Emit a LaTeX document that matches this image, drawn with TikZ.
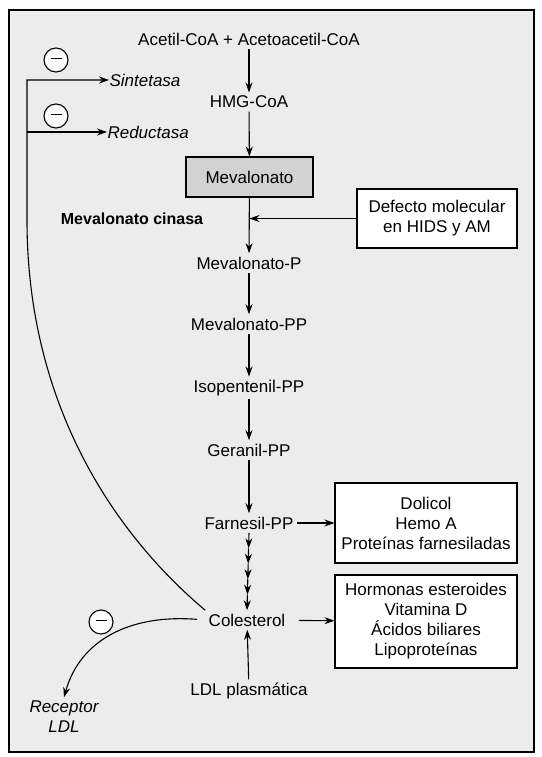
\documentclass[tikz,border=0pt]{standalone}
\usepackage{fontspec}
\setmainfont{Liberation Sans}
\usetikzlibrary{arrows.meta,calc}
\begin{document}
\begin{tikzpicture}[x=1pt,y=-1pt,line width=1.1pt,>={Stealth[length=10pt,width=7pt]},
  every node/.style={font=\fontsize{17}{20}\selectfont},
  metab/.style={inner sep=3pt},
  outbox/.style={draw,fill=white,align=center,inner sep=0pt},
  minus/.style={circle,draw,fill=white,minimum size=24pt,inner sep=0pt}]
\useasboundingbox (0,0) rectangle (541,757);
% frame
\draw[fill=gray!15,line width=1.5pt] (9,10) rectangle (534,752);
% main pathway
\node[metab] (acet) at (249,39) {Acetil-CoA + Acetoacetil-CoA};
\node[metab] (hmg) at (249,102) {HMG-CoA};
\node[draw,fill=gray!35,minimum width=127pt,minimum height=40pt] (meva) at (249.5,177) {Mevalonato};
\node[metab] (mevp) at (249,263) {Mevalonato-P};
\node[metab] (mevpp) at (249,324) {Mevalonato-PP};
\node[metab] (isop) at (249,388) {Isopentenil-PP};
\node[metab] (geran) at (249,450) {Geranil-PP};
\node[metab] (farn) at (249,523) {Farnesil-PP};
\node[metab] (coles) at (247,620) {Colesterol};
\node[metab] (ldl) at (249,691) {LDL plasmática};
\node[anchor=west,font=\fontsize{16}{20}\selectfont\bfseries] (cinasa) at (57,219) {Mevalonato cinasa};
\node[outbox,minimum width=160pt,minimum height=59pt] (defecto) at (437,218.5) {Defecto molecular\\en HIDS y AM};
\node[outbox,minimum width=182pt,minimum height=80pt] (prod1) at (426,523) {Dolicol\\Hemo A\\Proteínas farnesiladas};
\node[outbox,minimum width=182pt,minimum height=93pt] (prod2) at (426,621.5) {Hormonas esteroides\\Vitamina D\\Ácidos biliares\\Lipoproteínas};
% enzymes
\node[anchor=west,inner sep=0pt,font=\fontsize{17}{20}\selectfont\itshape] (sint) at (109,80) {Sintetasa};
\node[anchor=west,inner sep=0pt,font=\fontsize{17}{20}\selectfont\itshape] (reduc) at (107,132) {Reductasa};
\node[align=center,font=\fontsize{17}{20}\selectfont\itshape] (rec) at (64,717) {Receptor\\LDL};
\node[minus] (m1) at (56,60) {\rule[3pt]{11pt}{1.4pt}};
\node[minus] (m2) at (56,116) {\rule[3pt]{11pt}{1.4pt}};
\node[minus] (m3) at (101,622) {\rule[3pt]{11pt}{1.4pt}};
% arrows
\draw[->] (acet) -- (hmg);
\draw[->] (hmg) -- (meva);
\coordinate (junc) at (meva.south |- defecto.west);
\draw[->] (meva) -- (mevp);
\draw[->] (defecto) -- (junc);
\draw[->] (mevp) -- (mevpp);
\draw[->] (mevpp) -- (isop);
\draw[->] (isop) -- (geran);
\draw[->] (geran) -- (farn);
\draw[->] (farn) -- (prod1);
\foreach \k [evaluate=\k as \prev using \k-1] in {1,...,5}
  \draw[->] ($(farn.south)!\prev/5!(coles.north)$) -- ($(farn.south)!\k/5!(coles.north)$);
\draw[->,shorten <=10pt] (coles) -- (prod2);
\draw[->] (ldl) -- (coles);
% feedback
\coordinate (fb) at (27,132);
\draw[->] (coles.north west) .. controls (110,530) and (27,400) .. (27,220) -- (27,80) -- (sint.west);
\draw[->] (fb) -- (reduc.west);
\draw[->,shorten <=8pt] (coles.west) .. controls (130,614) and (80,640) .. (rec.north);
\end{tikzpicture}
\end{document}
